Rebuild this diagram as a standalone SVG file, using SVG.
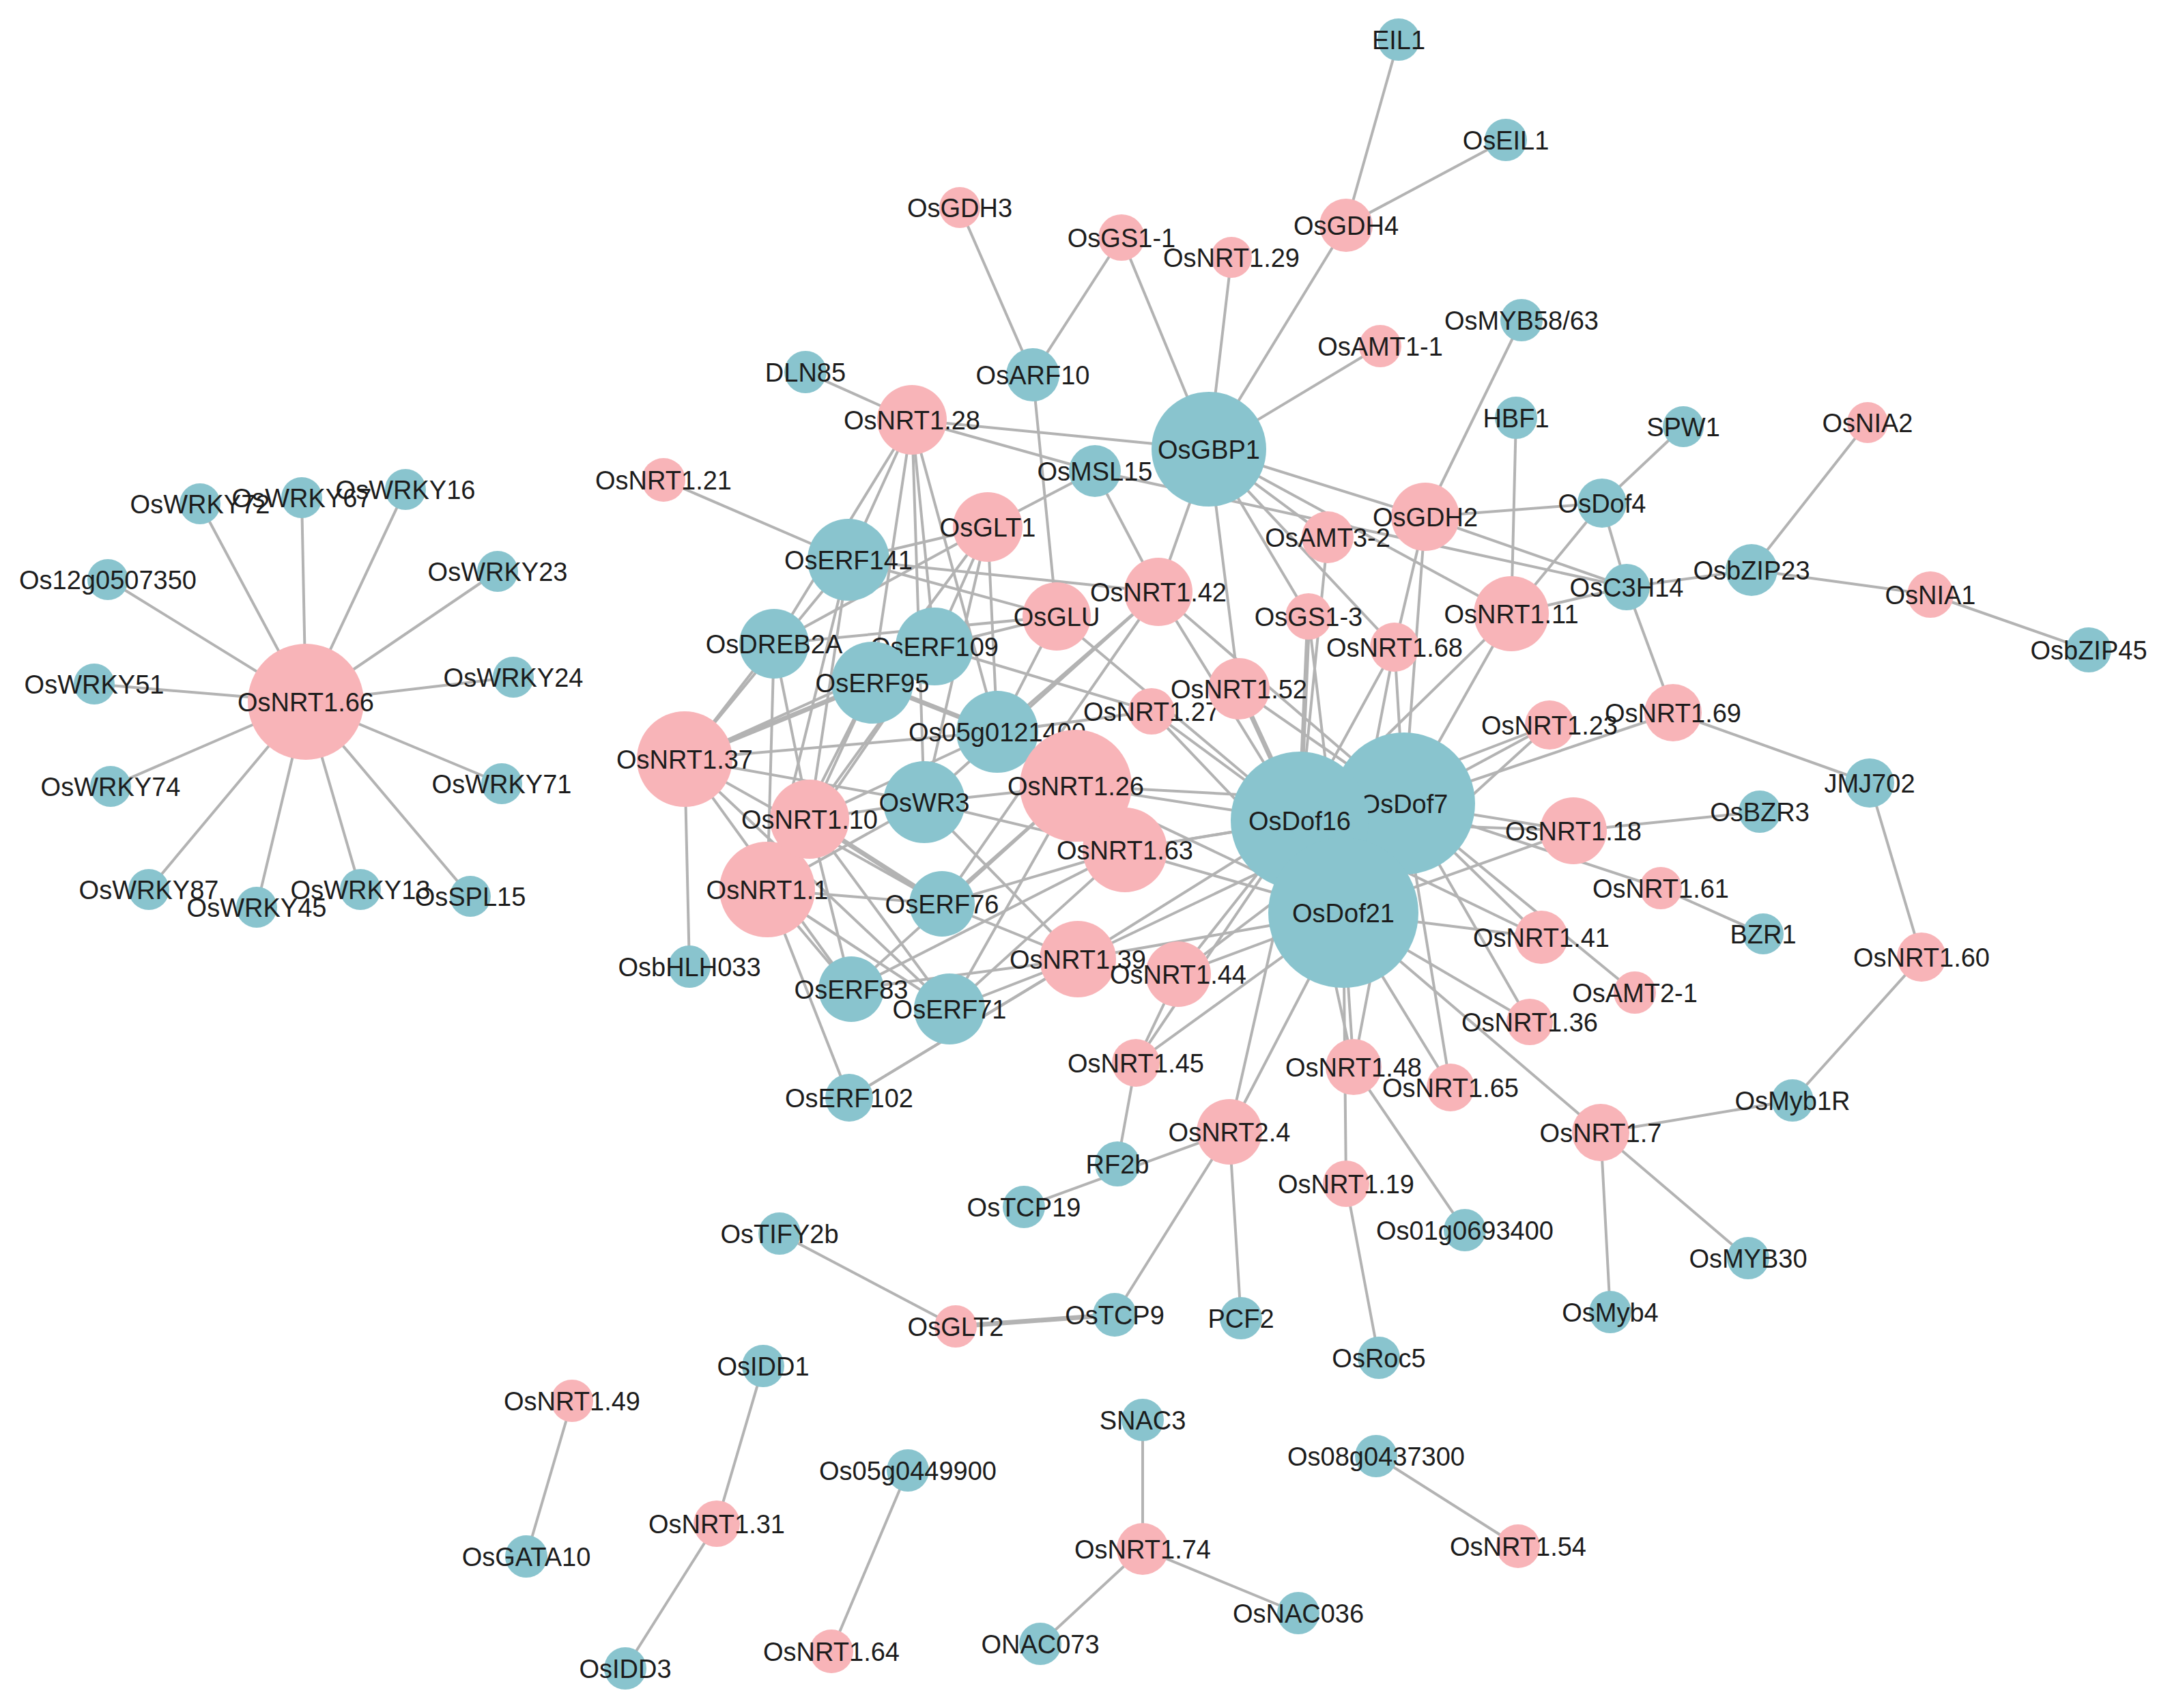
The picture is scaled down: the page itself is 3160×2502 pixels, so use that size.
<svg xmlns="http://www.w3.org/2000/svg" width="3160" height="2502" viewBox="0 0 3160 2502">
<style>
.e line{stroke:#b3b3b3;stroke-width:4;stroke-linecap:round}
.e line.k{stroke-width:7}
.p{fill:#f8b4b8}
.b{fill:#89c4ce}
text{font-family:"Liberation Sans",Arial,sans-serif;font-size:38px;fill:#1c1c1c;text-anchor:middle}
</style>
<rect width="3160" height="2502" fill="#ffffff"/>
<g id="edges" class="e">
<line x1="448" y1="1028" x2="293" y2="738"/>
<line x1="448" y1="1028" x2="442" y2="729"/>
<line x1="448" y1="1028" x2="594" y2="717"/>
<line x1="448" y1="1028" x2="158" y2="849"/>
<line x1="448" y1="1028" x2="729" y2="837"/>
<line x1="448" y1="1028" x2="138" y2="1002"/>
<line x1="448" y1="1028" x2="752" y2="992"/>
<line x1="448" y1="1028" x2="162" y2="1152"/>
<line x1="448" y1="1028" x2="735" y2="1148"/>
<line x1="448" y1="1028" x2="218" y2="1303"/>
<line x1="448" y1="1028" x2="376" y2="1329"/>
<line x1="448" y1="1028" x2="528" y2="1303"/>
<line x1="448" y1="1028" x2="689" y2="1313"/>
<line x1="1972" y1="330" x2="2049" y2="58"/>
<line x1="1972" y1="330" x2="2206" y2="205"/>
<line x1="1972" y1="330" x2="1771" y2="658"/>
<line x1="1406" y1="304" x2="1513" y2="549"/>
<line x1="1643" y1="348" x2="1513" y2="549"/>
<line x1="1643" y1="348" x2="1771" y2="658"/>
<line x1="1804" y1="377" x2="1771" y2="658"/>
<line x1="2022" y1="507" x2="1771" y2="658"/>
<line x1="2229" y1="469" x2="2088" y2="757"/>
<line x1="1180" y1="545" x2="1336" y2="615"/>
<line x1="1513" y1="549" x2="1548" y2="903"/>
<line x1="1336" y1="615" x2="1771" y2="658"/>
<line x1="1336" y1="615" x2="1604" y2="690"/>
<line x1="1604" y1="690" x2="2383" y2="860"/>
<line x1="972" y1="703" x2="1243" y2="820"/>
<line x1="1604" y1="690" x2="1447" y2="772"/>
<line x1="1604" y1="690" x2="1697" y2="867"/>
<line x1="1771" y1="658" x2="1697" y2="867"/>
<line x1="1771" y1="658" x2="1815" y2="1009"/>
<line x1="1771" y1="658" x2="1945" y2="787"/>
<line x1="1771" y1="658" x2="1917" y2="903"/>
<line x1="1771" y1="658" x2="2088" y2="757"/>
<line x1="1771" y1="658" x2="2214" y2="899"/>
<line x1="1771" y1="658" x2="2043" y2="948"/>
<line x1="2221" y1="612" x2="2214" y2="899"/>
<line x1="2466" y1="625" x2="2347" y2="737"/>
<line x1="2347" y1="737" x2="2088" y2="757"/>
<line x1="2347" y1="737" x2="2383" y2="860"/>
<line x1="2347" y1="737" x2="2214" y2="899"/>
<line x1="2383" y1="860" x2="2214" y2="899"/>
<line x1="2383" y1="860" x2="2566" y2="835"/>
<line x1="2383" y1="860" x2="2451" y2="1044"/>
<line x1="2566" y1="835" x2="2736" y2="619"/>
<line x1="2566" y1="835" x2="2828" y2="871"/>
<line x1="2828" y1="871" x2="3060" y2="952"/>
<line x1="2088" y1="757" x2="2383" y2="860"/>
<line x1="2088" y1="757" x2="2043" y2="948"/>
<line x1="2088" y1="757" x2="2057" y2="1177"/>
<line x1="1945" y1="787" x2="1904" y2="1202"/>
<line x1="1917" y1="903" x2="1904" y2="1202" class="k"/>
<line x1="1917" y1="903" x2="1968" y2="1337"/>
<line x1="2043" y1="948" x2="1904" y2="1202"/>
<line x1="2043" y1="948" x2="2057" y2="1177"/>
<line x1="2043" y1="948" x2="1968" y2="1337"/>
<line x1="2214" y1="899" x2="2057" y2="1177"/>
<line x1="2214" y1="899" x2="1904" y2="1202"/>
<line x1="1815" y1="1009" x2="1904" y2="1202" class="k"/>
<line x1="1815" y1="1009" x2="2057" y2="1177"/>
<line x1="1815" y1="1009" x2="1968" y2="1337"/>
<line x1="1697" y1="867" x2="1904" y2="1202"/>
<line x1="1697" y1="867" x2="2057" y2="1177"/>
<line x1="1697" y1="867" x2="1461" y2="1072"/>
<line x1="1697" y1="867" x2="1354" y2="1175"/>
<line x1="1697" y1="867" x2="1243" y2="820"/>
<line x1="1697" y1="867" x2="1380" y2="1324"/>
<line x1="1548" y1="903" x2="1243" y2="820"/>
<line x1="1548" y1="903" x2="1134" y2="943"/>
<line x1="1548" y1="903" x2="1369" y2="947"/>
<line x1="1548" y1="903" x2="1461" y2="1072"/>
<line x1="1548" y1="903" x2="1904" y2="1202"/>
<line x1="1687" y1="1042" x2="1369" y2="947"/>
<line x1="1687" y1="1042" x2="1904" y2="1202"/>
<line x1="1687" y1="1042" x2="1968" y2="1337"/>
<line x1="1687" y1="1042" x2="1461" y2="1072"/>
<line x1="1336" y1="615" x2="1243" y2="820"/>
<line x1="1336" y1="615" x2="1134" y2="943"/>
<line x1="1336" y1="615" x2="1369" y2="947"/>
<line x1="1336" y1="615" x2="1278" y2="1000"/>
<line x1="1336" y1="615" x2="1461" y2="1072"/>
<line x1="1336" y1="615" x2="1354" y2="1175"/>
<line x1="1447" y1="772" x2="1134" y2="943"/>
<line x1="1447" y1="772" x2="1369" y2="947"/>
<line x1="1447" y1="772" x2="1278" y2="1000"/>
<line x1="1447" y1="772" x2="1461" y2="1072"/>
<line x1="1447" y1="772" x2="1354" y2="1175"/>
<line x1="1447" y1="772" x2="1243" y2="820"/>
<line x1="1003" y1="1112" x2="1134" y2="943"/>
<line x1="1003" y1="1112" x2="1243" y2="820"/>
<line x1="1003" y1="1112" x2="1278" y2="1000" class="k"/>
<line x1="1003" y1="1112" x2="1369" y2="947"/>
<line x1="1003" y1="1112" x2="1461" y2="1072"/>
<line x1="1003" y1="1112" x2="1354" y2="1175"/>
<line x1="1003" y1="1112" x2="1247" y2="1449"/>
<line x1="1003" y1="1112" x2="1391" y2="1478"/>
<line x1="1003" y1="1112" x2="1010" y2="1416"/>
<line x1="1003" y1="1112" x2="1380" y2="1324"/>
<line x1="1186" y1="1200" x2="1243" y2="820"/>
<line x1="1186" y1="1200" x2="1134" y2="943"/>
<line x1="1186" y1="1200" x2="1369" y2="947"/>
<line x1="1186" y1="1200" x2="1278" y2="1000"/>
<line x1="1186" y1="1200" x2="1461" y2="1072"/>
<line x1="1186" y1="1200" x2="1354" y2="1175"/>
<line x1="1186" y1="1200" x2="1380" y2="1324" class="k"/>
<line x1="1186" y1="1200" x2="1247" y2="1449"/>
<line x1="1186" y1="1200" x2="1391" y2="1478"/>
<line x1="1124" y1="1303" x2="1134" y2="943"/>
<line x1="1124" y1="1303" x2="1243" y2="820"/>
<line x1="1124" y1="1303" x2="1278" y2="1000"/>
<line x1="1124" y1="1303" x2="1369" y2="947"/>
<line x1="1124" y1="1303" x2="1354" y2="1175"/>
<line x1="1124" y1="1303" x2="1380" y2="1324"/>
<line x1="1124" y1="1303" x2="1247" y2="1449"/>
<line x1="1124" y1="1303" x2="1391" y2="1478"/>
<line x1="1124" y1="1303" x2="1244" y2="1608"/>
<line x1="1278" y1="1000" x2="1461" y2="1072" class="k"/>
<line x1="1576" y1="1151" x2="1354" y2="1175"/>
<line x1="1576" y1="1151" x2="1461" y2="1072"/>
<line x1="1576" y1="1151" x2="1380" y2="1324"/>
<line x1="1576" y1="1151" x2="1391" y2="1478"/>
<line x1="1576" y1="1151" x2="1247" y2="1449"/>
<line x1="1576" y1="1151" x2="1904" y2="1202"/>
<line x1="1576" y1="1151" x2="2057" y2="1177"/>
<line x1="1576" y1="1151" x2="1968" y2="1337"/>
<line x1="1648" y1="1245" x2="1354" y2="1175"/>
<line x1="1648" y1="1245" x2="1380" y2="1324"/>
<line x1="1648" y1="1245" x2="1391" y2="1478"/>
<line x1="1648" y1="1245" x2="1247" y2="1449"/>
<line x1="1648" y1="1245" x2="1904" y2="1202"/>
<line x1="1648" y1="1245" x2="1968" y2="1337"/>
<line x1="1648" y1="1245" x2="2057" y2="1177"/>
<line x1="1648" y1="1245" x2="1461" y2="1072"/>
<line x1="1579" y1="1405" x2="1380" y2="1324"/>
<line x1="1579" y1="1405" x2="1391" y2="1478"/>
<line x1="1579" y1="1405" x2="1247" y2="1449"/>
<line x1="1579" y1="1405" x2="1354" y2="1175"/>
<line x1="1579" y1="1405" x2="1904" y2="1202"/>
<line x1="1579" y1="1405" x2="1968" y2="1337"/>
<line x1="1579" y1="1405" x2="2057" y2="1177"/>
<line x1="1579" y1="1405" x2="1244" y2="1608"/>
<line x1="1726" y1="1427" x2="1904" y2="1202"/>
<line x1="1726" y1="1427" x2="1968" y2="1337"/>
<line x1="1726" y1="1427" x2="2057" y2="1177"/>
<line x1="1726" y1="1427" x2="1664" y2="1557"/>
<line x1="1904" y1="1202" x2="2270" y2="1062"/>
<line x1="1904" y1="1202" x2="2258" y2="1373"/>
<line x1="1904" y1="1202" x2="1664" y2="1557"/>
<line x1="1904" y1="1202" x2="1801" y2="1658"/>
<line x1="1904" y1="1202" x2="1983" y2="1563"/>
<line x1="1904" y1="1202" x2="2305" y2="1217"/>
<line x1="2057" y1="1177" x2="2270" y2="1062"/>
<line x1="2057" y1="1177" x2="2451" y2="1044"/>
<line x1="2057" y1="1177" x2="2305" y2="1217"/>
<line x1="2057" y1="1177" x2="2433" y2="1301"/>
<line x1="2057" y1="1177" x2="2258" y2="1373"/>
<line x1="2057" y1="1177" x2="2395" y2="1454"/>
<line x1="2057" y1="1177" x2="2241" y2="1497"/>
<line x1="2057" y1="1177" x2="2125" y2="1593"/>
<line x1="2057" y1="1177" x2="1983" y2="1563"/>
<line x1="1968" y1="1337" x2="2270" y2="1062"/>
<line x1="1968" y1="1337" x2="2305" y2="1217"/>
<line x1="1968" y1="1337" x2="2258" y2="1373"/>
<line x1="1968" y1="1337" x2="2241" y2="1497"/>
<line x1="1968" y1="1337" x2="2125" y2="1593"/>
<line x1="1968" y1="1337" x2="1983" y2="1563"/>
<line x1="1968" y1="1337" x2="1972" y2="1734"/>
<line x1="1968" y1="1337" x2="2345" y2="1659"/>
<line x1="1968" y1="1337" x2="1801" y2="1658"/>
<line x1="1968" y1="1337" x2="1664" y2="1557"/>
<line x1="1664" y1="1557" x2="1637" y2="1705"/>
<line x1="1801" y1="1658" x2="1500" y2="1768"/>
<line x1="1801" y1="1658" x2="1633" y2="1926"/>
<line x1="1801" y1="1658" x2="1818" y2="1931"/>
<line x1="1400" y1="1943" x2="1633" y2="1926" class="k"/>
<line x1="1400" y1="1943" x2="1142" y2="1807"/>
<line x1="1983" y1="1563" x2="2146" y2="1802"/>
<line x1="1972" y1="1734" x2="2020" y2="1989"/>
<line x1="2345" y1="1659" x2="2626" y2="1612"/>
<line x1="2345" y1="1659" x2="2359" y2="1922"/>
<line x1="2345" y1="1659" x2="2561" y2="1843"/>
<line x1="2815" y1="1402" x2="2739" y2="1147"/>
<line x1="2815" y1="1402" x2="2626" y2="1612"/>
<line x1="2451" y1="1044" x2="2739" y2="1147"/>
<line x1="2305" y1="1217" x2="2578" y2="1189"/>
<line x1="2433" y1="1301" x2="2583" y2="1368"/>
<line x1="1244" y1="1608" x2="1579" y2="1405"/>
<line x1="838" y1="2052" x2="771" y2="2280"/>
<line x1="1118" y1="2001" x2="1050" y2="2232"/>
<line x1="1050" y1="2232" x2="916" y2="2444"/>
<line x1="1330" y1="2154" x2="1218" y2="2419"/>
<line x1="1674" y1="2080" x2="1674" y2="2269"/>
<line x1="1674" y1="2269" x2="1524" y2="2408"/>
<line x1="1674" y1="2269" x2="1902" y2="2363"/>
<line x1="2016" y1="2133" x2="2224" y2="2265"/>
</g>
<g id="nodes">
<g id="OsWRKY72"><circle class="b" cx="293" cy="738" r="30"/><text x="293" y="752">OsWRKY72</text></g>
<g id="OsWRKY67"><circle class="b" cx="442" cy="729" r="30"/><text x="442" y="743">OsWRKY67</text></g>
<g id="OsWRKY16"><circle class="b" cx="594" cy="717" r="30"/><text x="594" y="731">OsWRKY16</text></g>
<g id="Os12g0507350"><circle class="b" cx="158" cy="849" r="30"/><text x="158" y="863">Os12g0507350</text></g>
<g id="OsWRKY23"><circle class="b" cx="729" cy="837" r="30"/><text x="729" y="851">OsWRKY23</text></g>
<g id="OsWRKY51"><circle class="b" cx="138" cy="1002" r="30"/><text x="138" y="1016">OsWRKY51</text></g>
<g id="OsWRKY24"><circle class="b" cx="752" cy="992" r="30"/><text x="752" y="1006">OsWRKY24</text></g>
<g id="OsWRKY74"><circle class="b" cx="162" cy="1152" r="30"/><text x="162" y="1166">OsWRKY74</text></g>
<g id="OsWRKY71"><circle class="b" cx="735" cy="1148" r="30"/><text x="735" y="1162">OsWRKY71</text></g>
<g id="OsWRKY87"><circle class="b" cx="218" cy="1303" r="30"/><text x="218" y="1317">OsWRKY87</text></g>
<g id="OsWRKY45"><circle class="b" cx="376" cy="1329" r="30"/><text x="376" y="1343">OsWRKY45</text></g>
<g id="OsWRKY13"><circle class="b" cx="528" cy="1303" r="30"/><text x="528" y="1317">OsWRKY13</text></g>
<g id="OsSPL15"><circle class="b" cx="689" cy="1313" r="30"/><text x="689" y="1327">OsSPL15</text></g>
<g id="OsNRT1.66"><circle class="p" cx="448" cy="1028" r="85"/><text x="448" y="1042">OsNRT1.66</text></g>
<g id="EIL1"><circle class="b" cx="2049" cy="58" r="31"/><text x="2049" y="72">EIL1</text></g>
<g id="OsEIL1"><circle class="b" cx="2206" cy="205" r="31"/><text x="2206" y="219">OsEIL1</text></g>
<g id="OsGDH4"><circle class="p" cx="1972" cy="330" r="39"/><text x="1972" y="344">OsGDH4</text></g>
<g id="OsGDH3"><circle class="p" cx="1406" cy="304" r="30"/><text x="1406" y="318">OsGDH3</text></g>
<g id="OsGS1-1"><circle class="p" cx="1643" cy="348" r="34"/><text x="1643" y="362">OsGS1-1</text></g>
<g id="OsNRT1.29"><circle class="p" cx="1804" cy="377" r="30"/><text x="1804" y="391">OsNRT1.29</text></g>
<g id="OsAMT1-1"><circle class="p" cx="2022" cy="507" r="31"/><text x="2022" y="521">OsAMT1-1</text></g>
<g id="OsMYB58-63"><circle class="b" cx="2229" cy="469" r="31"/><text x="2229" y="483">OsMYB58/63</text></g>
<g id="DLN85"><circle class="b" cx="1180" cy="545" r="31"/><text x="1180" y="559">DLN85</text></g>
<g id="OsARF10"><circle class="b" cx="1513" cy="549" r="39"/><text x="1513" y="563">OsARF10</text></g>
<g id="HBF1"><circle class="b" cx="2221" cy="612" r="31"/><text x="2221" y="626">HBF1</text></g>
<g id="SPW1"><circle class="b" cx="2466" cy="625" r="30"/><text x="2466" y="639">SPW1</text></g>
<g id="OsNIA2"><circle class="p" cx="2736" cy="619" r="30"/><text x="2736" y="633">OsNIA2</text></g>
<g id="OsNRT1.28"><circle class="p" cx="1336" cy="615" r="51"/><text x="1336" y="629">OsNRT1.28</text></g>
<g id="OsMSL15"><circle class="b" cx="1604" cy="690" r="38"/><text x="1604" y="704">OsMSL15</text></g>
<g id="OsGBP1"><circle class="b" cx="1771" cy="658" r="84"/><text x="1771" y="672">OsGBP1</text></g>
<g id="OsNRT1.21"><circle class="p" cx="972" cy="703" r="32"/><text x="972" y="717">OsNRT1.21</text></g>
<g id="OsGLT1"><circle class="p" cx="1447" cy="772" r="51"/><text x="1447" y="786">OsGLT1</text></g>
<g id="OsERF141"><circle class="b" cx="1243" cy="820" r="60"/><text x="1243" y="834">OsERF141</text></g>
<g id="OsAMT3-2"><circle class="p" cx="1945" cy="787" r="38"/><text x="1945" y="801">OsAMT3-2</text></g>
<g id="OsGDH2"><circle class="p" cx="2088" cy="757" r="50"/><text x="2088" y="771">OsGDH2</text></g>
<g id="OsDof4"><circle class="b" cx="2347" cy="737" r="36"/><text x="2347" y="751">OsDof4</text></g>
<g id="OsC3H14"><circle class="b" cx="2383" cy="860" r="34"/><text x="2383" y="874">OsC3H14</text></g>
<g id="OsbZIP23"><circle class="b" cx="2566" cy="835" r="38"/><text x="2566" y="849">OsbZIP23</text></g>
<g id="OsNIA1"><circle class="p" cx="2828" cy="871" r="34"/><text x="2828" y="885">OsNIA1</text></g>
<g id="OsbZIP45"><circle class="b" cx="3060" cy="952" r="33"/><text x="3060" y="966">OsbZIP45</text></g>
<g id="OsNRT1.42"><circle class="p" cx="1697" cy="867" r="50"/><text x="1697" y="881">OsNRT1.42</text></g>
<g id="OsGLU"><circle class="p" cx="1548" cy="903" r="50"/><text x="1548" y="917">OsGLU</text></g>
<g id="OsGS1-3"><circle class="p" cx="1917" cy="903" r="34"/><text x="1917" y="917">OsGS1-3</text></g>
<g id="OsNRT1.11"><circle class="p" cx="2214" cy="899" r="55"/><text x="2214" y="913">OsNRT1.11</text></g>
<g id="OsNRT1.68"><circle class="p" cx="2043" cy="948" r="36"/><text x="2043" y="962">OsNRT1.68</text></g>
<g id="OsERF109"><circle class="b" cx="1369" cy="947" r="57"/><text x="1369" y="961">OsERF109</text></g>
<g id="OsERF95"><circle class="b" cx="1278" cy="1000" r="60"/><text x="1278" y="1014">OsERF95</text></g>
<g id="OsDREB2A"><circle class="b" cx="1134" cy="943" r="51"/><text x="1134" y="957">OsDREB2A</text></g>
<g id="OsNRT1.27"><circle class="p" cx="1687" cy="1042" r="34"/><text x="1687" y="1056">OsNRT1.27</text></g>
<g id="OsNRT1.52"><circle class="p" cx="1815" cy="1009" r="45"/><text x="1815" y="1023">OsNRT1.52</text></g>
<g id="Os05g0121400"><circle class="b" cx="1461" cy="1072" r="60"/><text x="1461" y="1086">Os05g0121400</text></g>
<g id="OsNRT1.37"><circle class="p" cx="1003" cy="1112" r="70"/><text x="1003" y="1126">OsNRT1.37</text></g>
<g id="OsNRT1.23"><circle class="p" cx="2270" cy="1062" r="36"/><text x="2270" y="1076">OsNRT1.23</text></g>
<g id="OsNRT1.69"><circle class="p" cx="2451" cy="1044" r="42"/><text x="2451" y="1058">OsNRT1.69</text></g>
<g id="OsWR3"><circle class="b" cx="1354" cy="1175" r="60"/><text x="1354" y="1189">OsWR3</text></g>
<g id="OsNRT1.1"><circle class="p" cx="1124" cy="1303" r="70"/><text x="1124" y="1317">OsNRT1.1</text></g>
<g id="OsNRT1.10"><circle class="p" cx="1186" cy="1200" r="58"/><text x="1186" y="1214">OsNRT1.10</text></g>
<g id="OsNRT1.26"><circle class="p" cx="1576" cy="1151" r="82"/><text x="1576" y="1165">OsNRT1.26</text></g>
<g id="OsNRT1.63"><circle class="p" cx="1648" cy="1245" r="62"/><text x="1648" y="1259">OsNRT1.63</text></g>
<g id="OsDof7"><circle class="b" cx="2057" cy="1177" r="104"/><text x="2057" y="1191">OsDof7</text></g>
<g id="OsDof16"><circle class="b" cx="1904" cy="1202" r="101"/><text x="1904" y="1216">OsDof16</text></g>
<g id="OsDof21"><circle class="b" cx="1968" cy="1337" r="110"/><text x="1968" y="1351">OsDof21</text></g>
<g id="OsNRT1.18"><circle class="p" cx="2305" cy="1217" r="49"/><text x="2305" y="1231">OsNRT1.18</text></g>
<g id="OsBZR3"><circle class="b" cx="2578" cy="1189" r="31"/><text x="2578" y="1203">OsBZR3</text></g>
<g id="JMJ702"><circle class="b" cx="2739" cy="1147" r="36"/><text x="2739" y="1161">JMJ702</text></g>
<g id="OsNRT1.61"><circle class="p" cx="2433" cy="1301" r="31"/><text x="2433" y="1315">OsNRT1.61</text></g>
<g id="BZR1"><circle class="b" cx="2583" cy="1368" r="30"/><text x="2583" y="1382">BZR1</text></g>
<g id="OsERF76"><circle class="b" cx="1380" cy="1324" r="48"/><text x="1380" y="1338">OsERF76</text></g>
<g id="OsbHLH033"><circle class="b" cx="1010" cy="1416" r="31"/><text x="1010" y="1430">OsbHLH033</text></g>
<g id="OsERF83"><circle class="b" cx="1247" cy="1449" r="48"/><text x="1247" y="1463">OsERF83</text></g>
<g id="OsERF71"><circle class="b" cx="1391" cy="1478" r="52"/><text x="1391" y="1492">OsERF71</text></g>
<g id="OsNRT1.39"><circle class="p" cx="1579" cy="1405" r="56"/><text x="1579" y="1419">OsNRT1.39</text></g>
<g id="OsNRT1.44"><circle class="p" cx="1726" cy="1427" r="48"/><text x="1726" y="1441">OsNRT1.44</text></g>
<g id="OsNRT1.41"><circle class="p" cx="2258" cy="1373" r="39"/><text x="2258" y="1387">OsNRT1.41</text></g>
<g id="OsAMT2-1"><circle class="p" cx="2395" cy="1454" r="31"/><text x="2395" y="1468">OsAMT2-1</text></g>
<g id="OsNRT1.60"><circle class="p" cx="2815" cy="1402" r="36"/><text x="2815" y="1416">OsNRT1.60</text></g>
<g id="OsNRT1.36"><circle class="p" cx="2241" cy="1497" r="34"/><text x="2241" y="1511">OsNRT1.36</text></g>
<g id="OsERF102"><circle class="b" cx="1244" cy="1608" r="35"/><text x="1244" y="1622">OsERF102</text></g>
<g id="OsNRT1.45"><circle class="p" cx="1664" cy="1557" r="35"/><text x="1664" y="1571">OsNRT1.45</text></g>
<g id="OsNRT1.48"><circle class="p" cx="1983" cy="1563" r="41"/><text x="1983" y="1577">OsNRT1.48</text></g>
<g id="OsNRT1.65"><circle class="p" cx="2125" cy="1593" r="35"/><text x="2125" y="1607">OsNRT1.65</text></g>
<g id="OsNRT2.4"><circle class="p" cx="1801" cy="1658" r="48"/><text x="1801" y="1672">OsNRT2.4</text></g>
<g id="OsNRT1.7"><circle class="p" cx="2345" cy="1659" r="42"/><text x="2345" y="1673">OsNRT1.7</text></g>
<g id="OsMyb1R"><circle class="b" cx="2626" cy="1612" r="31"/><text x="2626" y="1626">OsMyb1R</text></g>
<g id="RF2b"><circle class="b" cx="1637" cy="1705" r="33"/><text x="1637" y="1719">RF2b</text></g>
<g id="OsNRT1.19"><circle class="p" cx="1972" cy="1734" r="34"/><text x="1972" y="1748">OsNRT1.19</text></g>
<g id="OsTCP19"><circle class="b" cx="1500" cy="1768" r="31"/><text x="1500" y="1782">OsTCP19</text></g>
<g id="Os01g0693400"><circle class="b" cx="2146" cy="1802" r="31"/><text x="2146" y="1816">Os01g0693400</text></g>
<g id="OsMYB30"><circle class="b" cx="2561" cy="1843" r="31"/><text x="2561" y="1857">OsMYB30</text></g>
<g id="OsTIFY2b"><circle class="b" cx="1142" cy="1807" r="31"/><text x="1142" y="1821">OsTIFY2b</text></g>
<g id="OsGLT2"><circle class="p" cx="1400" cy="1943" r="31"/><text x="1400" y="1957">OsGLT2</text></g>
<g id="OsTCP9"><circle class="b" cx="1633" cy="1926" r="32"/><text x="1633" y="1940">OsTCP9</text></g>
<g id="PCF2"><circle class="b" cx="1818" cy="1931" r="31"/><text x="1818" y="1945">PCF2</text></g>
<g id="OsMyb4"><circle class="b" cx="2359" cy="1922" r="31"/><text x="2359" y="1936">OsMyb4</text></g>
<g id="OsRoc5"><circle class="b" cx="2020" cy="1989" r="31"/><text x="2020" y="2003">OsRoc5</text></g>
<g id="OsIDD1"><circle class="b" cx="1118" cy="2001" r="31"/><text x="1118" y="2015">OsIDD1</text></g>
<g id="OsNRT1.49"><circle class="p" cx="838" cy="2052" r="31"/><text x="838" y="2066">OsNRT1.49</text></g>
<g id="Os05g0449900"><circle class="b" cx="1330" cy="2154" r="31"/><text x="1330" y="2168">Os05g0449900</text></g>
<g id="SNAC3"><circle class="b" cx="1674" cy="2080" r="31"/><text x="1674" y="2094">SNAC3</text></g>
<g id="Os08g0437300"><circle class="b" cx="2016" cy="2133" r="31"/><text x="2016" y="2147">Os08g0437300</text></g>
<g id="OsNRT1.31"><circle class="p" cx="1050" cy="2232" r="34"/><text x="1050" y="2246">OsNRT1.31</text></g>
<g id="OsGATA10"><circle class="b" cx="771" cy="2280" r="31"/><text x="771" y="2294">OsGATA10</text></g>
<g id="OsNRT1.74"><circle class="p" cx="1674" cy="2269" r="38"/><text x="1674" y="2283">OsNRT1.74</text></g>
<g id="OsNRT1.54"><circle class="p" cx="2224" cy="2265" r="32"/><text x="2224" y="2279">OsNRT1.54</text></g>
<g id="OsNAC036"><circle class="b" cx="1902" cy="2363" r="31"/><text x="1902" y="2377">OsNAC036</text></g>
<g id="ONAC073"><circle class="b" cx="1524" cy="2408" r="31"/><text x="1524" y="2422">ONAC073</text></g>
<g id="OsNRT1.64"><circle class="p" cx="1218" cy="2419" r="32"/><text x="1218" y="2433">OsNRT1.64</text></g>
<g id="OsIDD3"><circle class="b" cx="916" cy="2444" r="31"/><text x="916" y="2458">OsIDD3</text></g>
</g>
</svg>
